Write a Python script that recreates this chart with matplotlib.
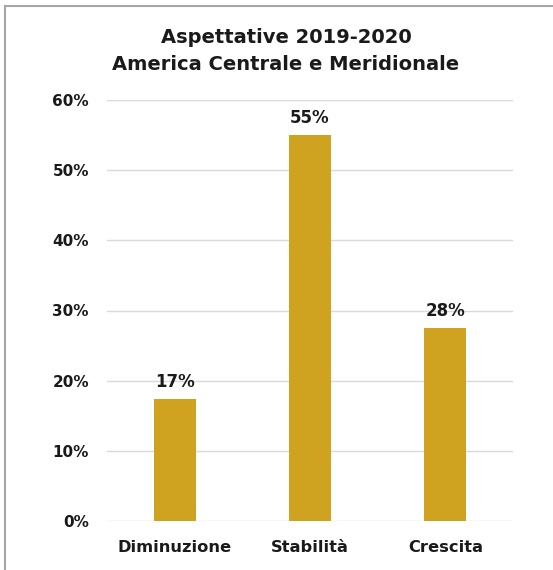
import matplotlib.pyplot as plt
from matplotlib.patches import Rectangle

categorie = ["Diminuzione", "Stabilità", "Crescita"]
valori = [17.4, 55.0, 27.5]
tick_y = [0, 10, 20, 30, 40, 50, 60]

oro = "#CFA220"
testo = "#1a1a1a"

plt.rcParams['font.family'] = ['DejaVu Sans']

fig = plt.figure(figsize=(5.53, 5.70), dpi=100)
ax = fig.add_axes([107 / 553, 1 - 521 / 570, 406 / 553, 421 / 570])

x = range(len(categorie))
ax.bar(x, valori, width=0.31, color=oro, zorder=3)

for xi, v in zip(x, valori):
    ax.annotate(f"{v:.0f}%", (xi, v), xytext=(0, 6), textcoords="offset points",
                ha="center", va="bottom", fontsize=12, fontweight="bold", color=testo)

ax.set_xlim(-0.5, len(categorie) - 0.5)
ax.set_ylim(0, 60)
ax.set_yticks(tick_y)
ax.set_yticklabels([f"{t}%" for t in tick_y])
ax.set_xticks(list(x))
ax.set_xticklabels(categorie, fontsize=11.7)
ax.tick_params(axis="y", length=0, labelsize=11, colors=testo, pad=13)
ax.tick_params(axis="x", length=0, colors=testo, pad=14)
for lab in ax.get_xticklabels() + ax.get_yticklabels():
    lab.set_fontweight("bold")

ax.grid(axis="y", color="#d9d9d9", linewidth=1, zorder=0)
for s in ax.spines.values():
    s.set_visible(False)

fig.text(286 / 553, 1 - 51 / 570, "Aspettative 2019-2020\nAmerica Centrale e Meridionale",
         ha="center", va="center", fontsize=14, fontweight="bold", color=testo,
         linespacing=1.5)

# cornice grigia del riquadro
fig.patches.append(Rectangle((5 / 553, -0.2), 2, 1.2 - 6 / 570, transform=fig.transFigure,
                             fill=False, edgecolor="#a6a6a6", linewidth=1.5))

fig.savefig("out.png", dpi=100)
